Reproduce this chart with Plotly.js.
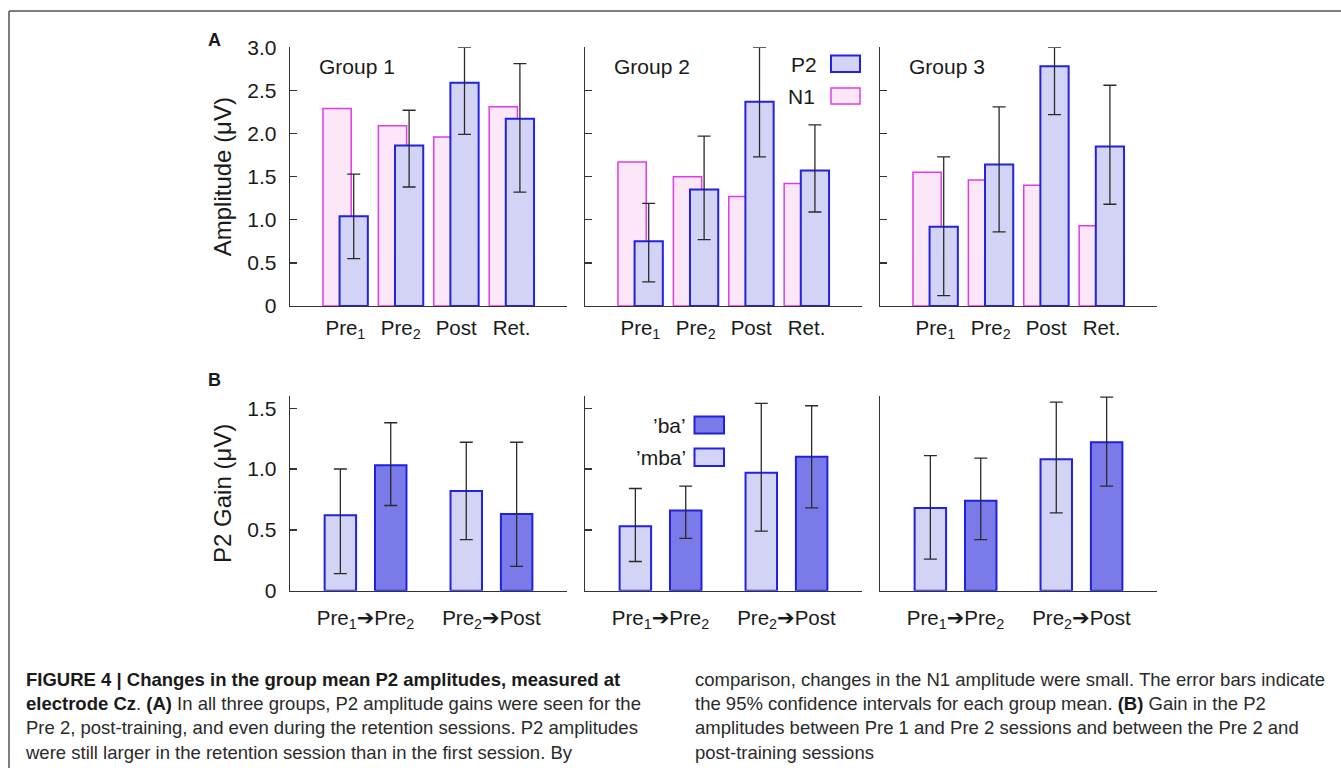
<!DOCTYPE html>
<html>
<head>
<meta charset="utf-8">
<script src="https://cdn.plot.ly/plotly-3.0.1.min.js"></script>
<style>
  html, body { margin: 0; padding: 0; background: #fff; }
  #wrap { position: relative; width: 1341px; height: 768px; overflow: hidden; }
  #chart { position: absolute; left: 0; top: 0; width: 1341px; height: 768px; }
  .cap { position: absolute; top: 668px; font-family: "Liberation Sans", Arial, sans-serif;
         font-size: 18.5px; line-height: 24.2px; color: #2a2a2a; white-space: nowrap; }
  .cap b { color: #1a1a1a; }
</style>
</head>
<body>
<div id="wrap">
  <div id="chart"></div>
  <div class="cap" style="left:26px;"><b>FIGURE 4 | Changes in the group mean P2 amplitudes, measured at</b><br><b>electrode Cz</b>. <b>(A)</b> In all three groups, P2 amplitude gains were seen for the<br>Pre 2, post-training, and even during the retention sessions. P2 amplitudes<br>were still larger in the retention session than in the first session. By</div>
  <div class="cap" style="left:695px;">comparison, changes in the N1 amplitude were small. The error bars indicate<br>the 95% confidence intervals for each group mean. <b>(B)</b> Gain in the P2<br>amplitudes between Pre 1 and Pre 2 sessions and between the Pre 2 and<br>post-training sessions</div>
</div>
<script>
// ---------------- DATA ----------------
const sessions = ['Pre<sub>1</sub>', 'Pre<sub>2</sub>', 'Post', 'Ret.'];
const sessionPos = [0, 1, 2, 3];
const groupNames = ['Group 1', 'Group 2', 'Group 3'];

// Panel A: amplitudes (µV)
const n1G1 = [2.29, 2.09, 1.96, 2.31];
const p2G1 = [1.04, 1.86, 2.59, 2.17];
const p2G1Upper = [1.53, 2.27, 3.00, 2.81];
const p2G1Lower = [0.55, 1.38, 1.99, 1.32];

const n1G2 = [1.67, 1.50, 1.27, 1.42];
const p2G2 = [0.75, 1.35, 2.37, 1.57];
const p2G2Upper = [1.19, 1.97, 3.00, 2.10];
const p2G2Lower = [0.28, 0.77, 1.73, 1.09];

const n1G3 = [1.55, 1.46, 1.40, 0.93];
const p2G3 = [0.92, 1.64, 2.78, 1.85];
const p2G3Upper = [1.73, 2.31, 3.00, 2.56];
const p2G3Lower = [0.12, 0.86, 2.22, 1.18];

// Panel B: P2 gain (µV)
const ARROW = '<span style="font-family:DejaVu Sans;font-size:21px">➔</span>';
const comparisons = ['Pre<sub>1</sub>' + ARROW + 'Pre<sub>2</sub>', 'Pre<sub>2</sub>' + ARROW + 'Post'];
const compPos = [1, 2];

const mbaG1 = [0.62, 0.82];
const mbaG1Upper = [1.00, 1.22];
const mbaG1Lower = [0.14, 0.42];
const baG1 = [1.03, 0.63];
const baG1Upper = [1.38, 1.22];
const baG1Lower = [0.70, 0.20];

const mbaG2 = [0.53, 0.97];
const mbaG2Upper = [0.84, 1.54];
const mbaG2Lower = [0.24, 0.49];
const baG2 = [0.66, 1.10];
const baG2Upper = [0.86, 1.52];
const baG2Lower = [0.43, 0.68];

const mbaG3 = [0.68, 1.08];
const mbaG3Upper = [1.11, 1.55];
const mbaG3Lower = [0.26, 0.64];
const baG3 = [0.74, 1.22];
const baG3Upper = [1.09, 1.59];
const baG3Lower = [0.42, 0.86];

const ampTicks = [0, 0.5, 1.0, 1.5, 2.0, 2.5, 3.0];
const ampTickText = ['0', '0.5', '1.0', '1.5', '2.0', '2.5', '3.0'];
const gainTicks = [0, 0.5, 1.0, 1.5];
const gainTickText = ['0', '0.5', '1.0', '1.5'];

// ---------------- STYLE ----------------
const W = 1341, H = 768;
const px = v => v / W;
const py = v => 1 - v / H;
const FONT = '"Liberation Sans", Arial, Helvetica, sans-serif';
const INK = '#1a1a1a';
const AXIS = '#333333';

const colN1 = '#fce7f9', colN1Line = '#e03ce6';
const colP2 = '#d3d3f5', colP2Line = '#2222e4';
const colBa = '#7a7ae8', colBaLine = '#2020e0';
const colErr = '#2a2a2a';

function errOf(vals, up, lo) {
  return {
    type: 'data', symmetric: false,
    array: up.map((u, i) => u - vals[i]),
    arrayminus: lo.map((l, i) => vals[i] - l),
    color: colErr, thickness: 1.3, width: 6.5
  };
}

const ampData = [
  { n1: n1G1, p2: p2G1, up: p2G1Upper, lo: p2G1Lower },
  { n1: n1G2, p2: p2G2, up: p2G2Upper, lo: p2G2Lower },
  { n1: n1G3, p2: p2G3, up: p2G3Upper, lo: p2G3Lower }
];
const gainData = [
  { mba: mbaG1, mu: mbaG1Upper, ml: mbaG1Lower, ba: baG1, bu: baG1Upper, bl: baG1Lower },
  { mba: mbaG2, mu: mbaG2Upper, ml: mbaG2Lower, ba: baG2, bu: baG2Upper, bl: baG2Lower },
  { mba: mbaG3, mu: mbaG3Upper, ml: mbaG3Lower, ba: baG3, bu: baG3Upper, bl: baG3Lower }
];

const traces = [];
ampData.forEach((g, k) => {
  const xa = k === 0 ? 'x' : 'x' + (k + 1);
  const ya = k === 0 ? 'y' : 'y' + (k + 1);
  traces.push({
    type: 'bar', name: 'N1', x: sessionPos, y: g.n1, xaxis: xa, yaxis: ya,
    width: 0.51, offset: -0.405,
    marker: { color: colN1, line: { color: colN1Line, width: 1.5 } },
    showlegend: false, hoverinfo: 'skip'
  });
  traces.push({
    type: 'bar', name: 'P2', x: sessionPos, y: g.p2, xaxis: xa, yaxis: ya,
    width: 0.51, offset: -0.105,
    marker: { color: colP2, line: { color: colP2Line, width: 2 } },
    error_y: errOf(g.p2, g.up, g.lo),
    showlegend: false, hoverinfo: 'skip'
  });
});
gainData.forEach((g, k) => {
  const xa = 'x' + (k + 4);
  const ya = 'y' + (k + 4);
  traces.push({
    type: 'bar', name: "'mba'", x: compPos, y: g.mba, xaxis: xa, yaxis: ya,
    width: 0.25, offset: -0.325,
    marker: { color: colP2, line: { color: colP2Line, width: 2 } },
    error_y: errOf(g.mba, g.mu, g.ml),
    showlegend: false, hoverinfo: 'skip'
  });
  traces.push({
    type: 'bar', name: "'ba'", x: compPos, y: g.ba, xaxis: xa, yaxis: ya,
    width: 0.25, offset: 0.075,
    marker: { color: colBa, line: { color: colBaLine, width: 2 } },
    error_y: errOf(g.ba, g.bu, g.bl),
    showlegend: false, hoverinfo: 'skip'
  });
});

const xDomains = [[px(290), px(567)], [px(585), px(862)], [px(880), px(1157)]];
const topDomain = [py(306), py(47.3)];
const botDomain = [py(590.7), py(396)];

const layout = {
  width: W, height: H,
  margin: { l: 0, r: 0, t: 0, b: 0, pad: 0 },
  paper_bgcolor: '#ffffff', plot_bgcolor: 'rgba(0,0,0,0)',
  barmode: 'overlay',
  font: { family: FONT, color: INK, size: 20 },
  showlegend: false,
  annotations: [],
  shapes: []
};

function xAxisCommon(domain, anchor, range, tickvals, ticktext) {
  return {
    domain: domain, anchor: anchor, range: range, fixedrange: true,
    showline: true, linecolor: AXIS, linewidth: 1.3,
    showgrid: false, zeroline: false, ticks: '',
    tickmode: 'array', tickvals: tickvals, ticktext: ticktext,
    tickfont: { family: FONT, size: 20.5, color: INK },
    ticklabelstandoff: 3
  };
}
function yAxisCommon(domain, anchor, range, tickvals, ticktext, showLabels, showTicks) {
  return {
    domain: domain, anchor: anchor, range: range, fixedrange: true,
    showline: true, linecolor: AXIS, linewidth: 1.3,
    showgrid: false, zeroline: false,
    ticks: showTicks ? 'inside' : '', ticklen: 7, tickwidth: 1.3, tickcolor: AXIS,
    tickmode: 'array', tickvals: tickvals, ticktext: ticktext,
    showticklabels: showLabels,
    tickfont: { family: FONT, size: 21, color: INK },
    ticklabelstandoff: 8
  };
}

for (let k = 0; k < 3; k++) {
  const xs = k === 0 ? '' : String(k + 1);
  layout['xaxis' + xs] = xAxisCommon(xDomains[k], 'y' + xs, [-1, 4], sessionPos, sessions);
  layout['yaxis' + xs] = yAxisCommon(topDomain, 'x' + xs, [0, 3.0], ampTicks, ampTickText, k === 0, true);
  const xb = String(k + 4);
  layout['xaxis' + xb] = xAxisCommon(xDomains[k], 'y' + xb, [0.4, 2.6], compPos, comparisons);
  layout['xaxis' + xb].ticklabelstandoff = 8;
  layout['yaxis' + xb] = yAxisCommon(botDomain, 'x' + xb, [0, 1.6], gainTicks, gainTickText, k === 0, k !== 2);
}
layout.yaxis.title = { text: 'Amplitude (μV)', font: { family: FONT, size: 24, color: INK }, standoff: 9 };
layout.yaxis4.title = { text: 'P2 Gain (μV)', font: { family: FONT, size: 24, color: INK }, standoff: 9 };

// Panel letters and group labels
const ann = layout.annotations;
ann.push({ xref: 'paper', yref: 'paper', x: px(215), y: py(40), text: '<b>A</b>', showarrow: false,
           font: { family: FONT, size: 18, color: INK }, xanchor: 'center', yanchor: 'middle' });
ann.push({ xref: 'paper', yref: 'paper', x: px(214), y: py(380), text: '<b>B</b>', showarrow: false,
           font: { family: FONT, size: 18, color: INK }, xanchor: 'center', yanchor: 'middle' });
const groupLabelX = [317, 612, 907];
groupNames.forEach((g, k) => {
  ann.push({ xref: 'paper', yref: 'paper', x: px(groupLabelX[k]), y: py(66), text: g, showarrow: false,
             font: { family: FONT, size: 21, color: INK }, xanchor: 'left', yanchor: 'middle' });
});

// Legends (panel A, group 2; panel B, group 2)
function legendEntry(label, textRight, cy, box, fill, line, lw) {
  ann.push({ xref: 'paper', yref: 'paper', x: px(textRight), y: py(cy), text: label, showarrow: false,
             font: { family: FONT, size: 21, color: INK }, xanchor: 'right', yanchor: 'middle' });
  layout.shapes.push({ type: 'rect', xref: 'paper', yref: 'paper',
    x0: px(box[0]), x1: px(box[1]), y0: py(box[3]), y1: py(box[2]),
    fillcolor: fill, line: { color: line, width: lw } });
}
legendEntry('P2', 819, 64, [831, 860, 55.5, 72], colP2, colP2Line, 2);
legendEntry('N1', 817, 96, [831, 860, 88, 104], colN1, colN1Line, 1.5);
legendEntry('’ba’', 688, 425, [694.5, 724, 416.5, 433.5], colBa, colBaLine, 2);
legendEntry('’mba’', 688, 457, [694.5, 724, 448.5, 466], colP2, colP2Line, 2);

// Figure frame (top and left edges)
layout.shapes.push({ type: 'line', xref: 'paper', yref: 'paper', x0: px(9), x1: 1, y0: py(11), y1: py(11),
                     line: { color: '#555', width: 1.5 } });
layout.shapes.push({ type: 'line', xref: 'paper', yref: 'paper', x0: px(9), x1: px(9), y0: 0, y1: py(11),
                     line: { color: '#555', width: 1.5 } });

Plotly.newPlot('chart', traces, layout, { staticPlot: true, displayModeBar: false });
</script>
</body>
</html>
